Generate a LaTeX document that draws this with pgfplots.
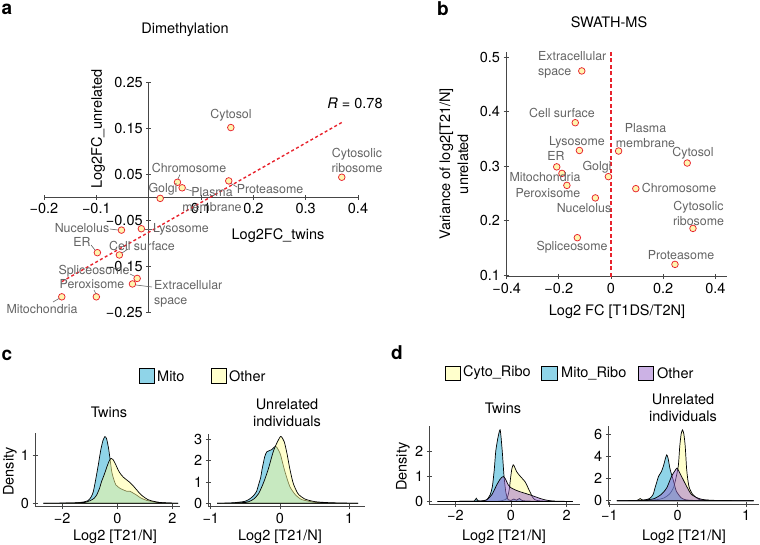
\documentclass[border=0pt]{standalone}
\usepackage{pgfplots}
\pgfplotsset{compat=1.18}
\usepackage{fontspec}
\setmainfont{TeX Gyre Heros}
\definecolor{lab}{RGB}{100,100,100}
\definecolor{ptred}{RGB}{232,35,45}
\definecolor{ptfill}{RGB}{255,245,175}
\definecolor{axgray}{RGB}{70,70,70}
\definecolor{mito}{RGB}{31,169,209}
\definecolor{yel}{RGB}{255,255,153}
\definecolor{purp}{RGB}{153,102,204}
\newcommand{\bfont}{\fontsize{14.5}{17}\selectfont}
\newcommand{\lfont}{\fontsize{12.4}{15}\selectfont}
\newcommand{\pfont}{\fontsize{19}{20}\selectfont\bfseries}
\pgfplotsset{
  base/.style={scale only axis, anchor=south west, enlargelimits=false, clip=false,
    tick style={axgray, line width=0.8pt},
    tick align=outside, major tick length=5pt, minor tick num=0,
    ticklabel style={font=\bfont, black},
  },
  noarr/.style={axis line style={axgray, line width=0.8pt, -}},
  pt/.style={only marks, mark=*, mark size=3.3pt, mark options={draw=ptred, fill=ptfill, line width=0.75pt}},
  dens/.style={line width=0.7pt, draw=black, smooth, tension=0.4},
}
\begin{document}
\begin{tikzpicture}[x=1pt,y=1pt]
\useasboundingbox (0,0) rectangle (760,-544);

% ---------------- panel a ----------------
\begin{axis}[base, at={(44pt,-312pt)}, width=314pt, height=230pt,
  axis lines=middle, noarr, xmin=-0.2, xmax=0.4, ymin=-0.25, ymax=0.25,
  xtick={-0.2,-0.1,0.1,0.2,0.3,0.4}, xticklabels={−0.2,−0.1,0.1,0.2,0.3,0.4},
  ytick={-0.25,-0.15,-0.05,0.05,0.15,0.25}, yticklabels={−0.25,−0.15,−0.05,0.05,0.15,0.25}]
\addplot[ptred, line width=1.4pt, dash pattern=on 3pt off 2.5pt] coordinates {(-0.166,-0.184) (0.369,0.162)};
\addplot[pt] coordinates {
(0.157,0.151) (0.369,0.043) (0.055,0.032) (0.064,0.020) (0.153,0.035) (0.022,-0.003)
(-0.052,-0.072) (-0.014,-0.069) (-0.098,-0.121) (-0.056,-0.126) (-0.022,-0.177)
(-0.031,-0.189) (-0.100,-0.217) (-0.166,-0.217)};
\end{axis}
\node[font=\pfont] at (7,-9) {a};
\node[font=\bfont] at (185,-30) {Dimethylation};
\node[font=\bfont] at (355,-103) {\textit{R} = 0.78};
\node[font=\bfont] at (278,-236) {Log2FC\_twins};
\node[font=\bfont, rotate=90] at (98,-129) {Log2FC\_unrelated};
\begin{scope}[lab, font=\lfont, inner sep=0pt]
\node at (231,-115) {Cytosol};
\node[align=center] at (357,-160) {Cytosolic\\ribosome};
\node at (189,-168) {Chromosome};
\node at (163,-189) {Golgi};
\node[align=center] at (212,-199.5) {Plasma\\membrane};
\node at (270,-189) {Proteasome};
\node at (82,-228) {Nucelolus};
\node at (181,-229) {Lysosome};
\node at (82,-242) {ER};
\node at (142,-246) {Cell surface};
\node at (94,-271) {Spliceosome};
\node at (92,-284) {Peroxisome};
\node[anchor=west, align=left] at (154,-293.5) {Extracellular\\space};
\node at (42,-309) {Mitochondria};
\end{scope}
\begin{scope}[lab, line width=0.6pt]
\draw (180,-174.5) -- (178,-179);
\draw (186,-189) -- (192,-191);
\draw (231,-183.5) -- (237,-187);
\draw (110,-229) -- (118,-230);
\draw (145,-229) -- (152,-229);
\draw (91,-245) -- (95,-250);
\draw (122,-253) -- (128,-249);
\draw (130,-274) -- (134,-276);
\draw (94,-290) -- (96,-294);
\draw (136,-285) -- (152,-287);
\draw (53,-302) -- (59,-298.5);
\end{scope}

% ---------------- panel b ----------------
\begin{axis}[base, at={(506pt,-276.7pt)}, width=221pt, height=225pt,
  axis lines=left, noarr, xmin=-0.4023, xmax=0.4444, ymin=0.0974, ymax=0.5103,
  xtick={-0.4,-0.2,0,0.2,0.4}, xticklabels={−0.4,−0.2,0,0.2,0.4},
  ytick={0.1,0.2,0.3,0.4,0.5}, yticklabels={0.1,0.2,0.3,0.4,0.5}]
\addplot[ptred, line width=1.4pt, dash pattern=on 4pt off 2.5pt] coordinates {(0,0.0974) (0,0.5103)};
\addplot[pt] coordinates {
(-0.112,0.475) (-0.137,0.380) (-0.121,0.329) (0.029,0.328) (0.292,0.306) (-0.208,0.299)
(-0.188,0.287) (-0.010,0.281) (-0.169,0.265) (0.095,0.259) (-0.060,0.242) (0.314,0.186)
(-0.129,0.169) (0.245,0.120)};
\end{axis}
\node[font=\pfont] at (443,-9) {b};
\node[font=\bfont] at (609,-22) {SWATH-MS};
\node[font=\bfont] at (617,-312) {Log2 FC [T1DS/T2N]};
\node[font=\fontsize{14.5}{18}\selectfont, rotate=90, align=center] at (454,-164) {Variance of log2[T21/N]\\unrelated};
\begin{scope}[lab, font=\lfont, inner sep=0pt]
\node[anchor=west, align=left] at (538,-64.5) {Extracellular\\space};
\node at (562,-113) {Cell surface};
\node at (577,-142) {Lysosome};
\node at (556,-156) {ER};
\node[align=center] at (645.5,-135.5) {Plasma\\membrane};
\node at (693,-153) {Cytosol};
\node at (597,-167) {Golgi};
\node at (545,-177) {Mitochondria};
\node at (548,-193) {Peroxisome};
\node at (584,-208) {Nucelolus};
\node at (679,-188) {Chromosome};
\node[align=center] at (698.5,-213.5) {Cytosolic\\ribosome};
\node at (572,-247) {Spliceosome};
\node at (681,-255) {Proteasome};
\end{scope}

% ---------------- panel c ----------------
\node[font=\pfont] at (7,-355) {c};
\draw[black, line width=0.7pt, fill=mito, fill opacity=0.5] (139,-368) rectangle (154,-383);
\node[font=\bfont, anchor=west, inner sep=0pt] at (157,-376) {Mito};
\draw[black, line width=0.7pt, fill=yel, fill opacity=0.5] (211,-368) rectangle (226,-383);
\node[font=\bfont, anchor=west, inner sep=0pt] at (229,-376) {Other};
\node[font=\bfont] at (109,-412) {Twins};
\node[font=\bfont, align=center] at (287,-412.5) {Unrelated\\individuals};
\node[font=\bfont, rotate=90] at (10,-471.5) {Density};
\node[font=\bfont] at (115,-537) {Log2 [T21/N]};
\node[font=\bfont] at (280,-537) {Log2 [T21/N]};

\begin{axis}[base, at={(35pt,-506.7pt)}, width=145pt, height=73.7pt,
  axis lines=left, noarr, xmin=-2.982, xmax=2.272, ymin=-0.0704, ymax=1.4555,
  xtick={-2,0,2}, xticklabels={−2,0,2}, ytick={0,1}, yticklabels={0,1}]
\addplot[dens, fill=mito, fill opacity=0.5] coordinates {
(-2.68,0) (-2.0,0.003) (-1.5,0.01) (-1.2,0.03) (-1.05,0.06) (-0.95,0.13) (-0.87,0.24)
(-0.78,0.5) (-0.69,0.79) (-0.6,1.1) (-0.52,1.3) (-0.45,1.38) (-0.39,1.34) (-0.32,1.15)
(-0.27,0.95) (-0.2,0.65) (-0.13,0.5) (-0.05,0.38) (0.1,0.31) (0.25,0.27) (0.34,0.25)
(0.46,0.25) (0.58,0.21) (0.70,0.17) (0.85,0.11) (1.07,0.06) (1.4,0.025) (1.8,0.008) (2.2,0)} \closedcycle;
\addplot[dens, fill=yel, fill opacity=0.5] coordinates {
(-2.68,0) (-2.0,0.005) (-1.5,0.01) (-1.2,0.02) (-1.0,0.05) (-0.85,0.1) (-0.75,0.17)
(-0.65,0.3) (-0.57,0.45) (-0.47,0.6) (-0.38,0.75) (-0.3,0.87) (-0.23,0.93) (-0.15,0.9)
(-0.08,0.83) (0.04,0.68) (0.13,0.6) (0.22,0.54) (0.35,0.48) (0.46,0.43) (0.58,0.36)
(0.70,0.28) (0.82,0.2) (0.94,0.14) (1.1,0.08) (1.25,0.05) (1.5,0.02) (1.8,0.008) (2.2,0)} \closedcycle;
\end{axis}

\begin{axis}[base, at={(208.3pt,-506.7pt)}, width=156.7pt, height=72.7pt,
  axis lines=left, noarr, xmin=-1.036, xmax=1.228, ymin=-0.16, ymax=3.254,
  xtick={-1,0,1}, xticklabels={−1,0,1}, ytick={0,1,2,3}, yticklabels={0,1,2,3}]
\addplot[dens, fill=mito, fill opacity=0.5] coordinates {
(-0.91,0) (-0.7,0.02) (-0.6,0.05) (-0.51,0.09) (-0.45,0.18) (-0.39,0.33) (-0.34,0.55)
(-0.31,0.87) (-0.28,1.2) (-0.26,1.58) (-0.22,2.2) (-0.19,2.42) (-0.15,2.48) (-0.12,2.52)
(-0.07,2.67) (-0.04,2.6) (0.0,2.35) (0.02,2.13) (0.07,1.5) (0.14,0.8) (0.22,0.41)
(0.31,0.18) (0.46,0.07) (0.6,0.03) (0.8,0.01) (1.13,0)} \closedcycle;
\addplot[dens, fill=yel, fill opacity=0.5] coordinates {
(-0.91,0) (-0.7,0.01) (-0.55,0.03) (-0.45,0.08) (-0.38,0.2) (-0.31,0.45) (-0.24,0.95)
(-0.17,1.6) (-0.10,2.4) (-0.05,2.8) (0.01,3.14) (0.06,2.9) (0.10,2.35) (0.14,1.65)
(0.19,0.95) (0.26,0.45) (0.36,0.2) (0.50,0.08) (0.65,0.04) (0.8,0.02) (1.13,0)} \closedcycle;
\end{axis}

% ---------------- panel d ----------------
\node[font=\pfont] at (397,-353) {d};
\draw[black, line width=0.7pt, fill=yel, fill opacity=0.5] (445,-366) rectangle (460,-380);
\node[font=\bfont, anchor=west, inner sep=0pt] at (463,-373) {Cyto\_Ribo};
\draw[black, line width=0.7pt, fill=mito, fill opacity=0.5] (541,-366) rectangle (557,-380);
\node[font=\bfont, anchor=west, inner sep=0pt] at (561,-373) {Mito\_Ribo};
\draw[black, line width=0.7pt, fill=purp, fill opacity=0.5] (638,-366) rectangle (653,-380);
\node[font=\bfont, anchor=west, inner sep=0pt] at (657,-373) {Other};
\node[font=\bfont] at (503,-408) {Twins};
\node[font=\bfont, align=center] at (683,-408) {Unrelated\\individuals};
\node[font=\bfont, rotate=90] at (403,-466.7) {Density};
\node[font=\bfont] at (504,-537) {Log2 [T21/N]};
\node[font=\bfont] at (684,-537) {Log2 [T21/N]};

\begin{axis}[base, at={(429.3pt,-504pt)}, width=150.7pt, height=78pt,
  axis lines=left, noarr, xmin=-2.939, xmax=2.482, ymin=-0.1, ymax=3.02,
  xtick={-2,0,2}, xticklabels={−2,0,2}, ytick={0,1,2}, yticklabels={0,1,2}]
\addplot[dens, fill=yel, fill opacity=0.5] coordinates {
(-2.64,0) (-1.5,0.005) (-0.8,0.01) (-0.4,0.02) (-0.2,0.08) (-0.12,0.2) (-0.06,0.5)
(-0.02,0.9) (0.03,1.3) (0.08,1.47) (0.13,1.38) (0.2,1.2) (0.3,1.05) (0.38,0.95) (0.5,0.8)
(0.56,0.68) (0.62,0.53) (0.7,0.35) (0.76,0.2) (0.85,0.08) (1.0,0.03) (1.3,0.01) (2.22,0)} \closedcycle;
\addplot[dens, fill=mito, fill opacity=0.5] coordinates {
(-2.64,0) (-1.5,0.01) (-1.32,0.02) (-1.25,0.13) (-1.18,0.02) (-1.0,0.02) (-0.87,0.07)
(-0.75,0.27) (-0.67,0.6) (-0.6,1.3) (-0.55,2.0) (-0.48,2.5) (-0.42,2.8) (-0.39,2.87)
(-0.36,2.6) (-0.31,1.94) (-0.25,1.0) (-0.18,0.33) (-0.1,0.07) (0.0,0.04) (0.1,0.1)
(0.2,0.05) (0.3,0.12) (0.4,0.04) (0.6,0.02) (1.0,0.01) (2.22,0)} \closedcycle;
\addplot[dens, fill=purp, fill opacity=0.5] coordinates {
(-2.64,0) (-1.5,0.01) (-1.0,0.03) (-0.87,0.07) (-0.69,0.27) (-0.51,0.67) (-0.4,0.88)
(-0.33,0.97) (-0.27,1.0) (-0.2,0.9) (-0.1,0.67) (0.0,0.55) (0.14,0.47) (0.3,0.4)
(0.5,0.33) (0.7,0.26) (0.85,0.2) (1.0,0.14) (1.21,0.07) (1.5,0.02) (2.22,0)} \closedcycle;
\end{axis}

\begin{axis}[base, at={(608.3pt,-504pt)}, width=150.7pt, height=78pt,
  axis lines=left, noarr, xmin=-1.015, xmax=1.189, ymin=-0.297, ymax=6.73,
  xtick={-1,0,1}, xticklabels={−1,0,1}, ytick={0,2,4,6}, yticklabels={0,2,4,6}]
\addplot[dens, fill=yel, fill opacity=0.5] coordinates {
(-0.89,0) (-0.6,0.02) (-0.55,0.2) (-0.5,0.03) (-0.3,0.1) (-0.2,0.25) (-0.12,0.6)
(-0.06,1.2) (-0.02,2.2) (0.01,3.2) (0.03,4.9) (0.05,6.0) (0.07,6.37) (0.09,6.0)
(0.11,4.9) (0.13,2.9) (0.15,1.8) (0.17,1.16) (0.22,0.57) (0.31,0.12) (0.45,0.03)
(0.7,0.01) (1.11,0)} \closedcycle;
\addplot[dens, fill=mito, fill opacity=0.5] coordinates {
(-0.89,0) (-0.6,0.02) (-0.5,0.05) (-0.41,0.2) (-0.36,0.56) (-0.33,1.2) (-0.31,1.6)
(-0.28,2.2) (-0.24,2.6) (-0.21,3.1) (-0.18,3.8) (-0.16,4.13) (-0.14,3.8) (-0.11,2.8)
(-0.06,1.75) (-0.02,0.86) (0.05,0.27) (0.12,0.08) (0.3,0.02) (1.11,0)} \closedcycle;
\addplot[dens, fill=purp, fill opacity=0.5] coordinates {
(-0.89,0) (-0.6,0.02) (-0.45,0.08) (-0.34,0.2) (-0.24,0.57) (-0.16,1.16) (-0.09,2.2)
(-0.04,2.7) (-0.01,2.94) (0.03,2.5) (0.08,1.9) (0.13,1.3) (0.2,0.57) (0.31,0.2)
(0.4,0.08) (0.6,0.02) (1.11,0)} \closedcycle;
\end{axis}
\end{tikzpicture}
\end{document}
